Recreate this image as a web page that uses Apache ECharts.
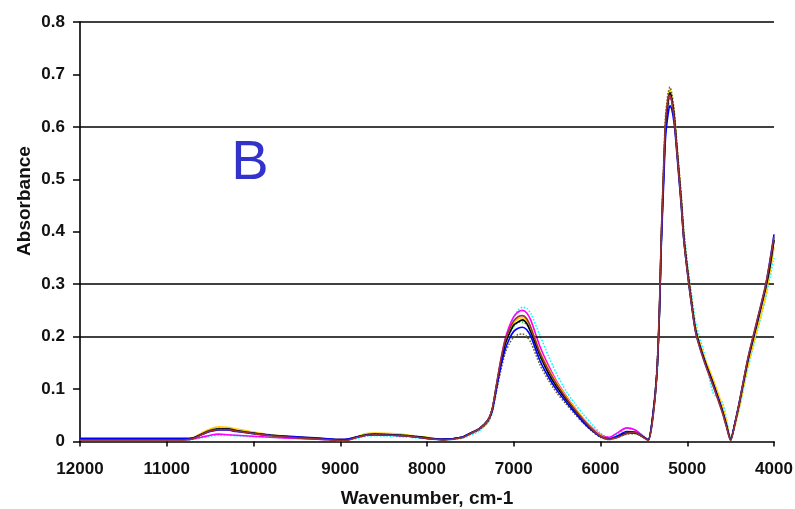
<!DOCTYPE html>
<html>
<head>
<meta charset="utf-8">
<script src="https://cdn.jsdelivr.net/npm/echarts@6/dist/echarts.min.js"></script>
<style>
html,body{margin:0;padding:0;background:#fff;}
#chart{width:795px;height:509px;}
</style>
</head>
<body>
<div id="chart"></div>
<script>
// Wavenumber grid (cm-1), shared by all spectra
var wavenumbers = [
  12000,11500,11000,10800,10700,10600,10500,10400,10300,10200,
  10000,9800,9500,9200,9000,8900,8800,8700,8600,8400,
  8200,8000,7800,7600,7500,7400,7300,7250,7200,7150,
  7100,7050,7000,6950,6900,6850,6800,6700,6600,6500,
  6400,6300,6200,6100,6000,5900,5800,5700,5600,5500,
  5450,5400,5350,5320,5300,5270,5250,5220,5200,5180,
  5150,5120,5100,5070,5040,5000,4950,4900,4800,4700,
  4600,4550,4500,4450,4400,4300,4200,4100,4050,4000
];

var specCyan = [
  0.003,0.003,0.003,0.003,0.004,0.007,0.010,0.012,0.012,0.011,
  0.009,0.008,0.006,0.004,0.002,0.003,0.006,0.010,0.011,0.010,
  0.008,0.005,0.003,0.006,0.012,0.020,0.036,0.055,0.100,0.148,
  0.190,0.216,0.236,0.250,0.256,0.254,0.243,0.203,0.163,0.127,
  0.097,0.073,0.052,0.033,0.016,0.007,0.014,0.025,0.022,0.010,
  0.004,0.040,0.120,0.240,0.370,0.510,0.590,0.635,0.645,0.640,
  0.610,0.560,0.525,0.470,0.405,0.345,0.280,0.225,0.165,0.092,
  0.076,0.045,0.008,0.030,0.062,0.140,0.205,0.270,0.310,0.350
];
var specMagenta = [
  0.004,0.004,0.004,0.004,0.005,0.008,0.012,0.014,0.013,0.012,
  0.010,0.008,0.006,0.004,0.003,0.004,0.008,0.012,0.013,0.012,
  0.010,0.006,0.004,0.008,0.015,0.024,0.040,0.060,0.106,0.154,
  0.195,0.220,0.238,0.247,0.250,0.245,0.230,0.182,0.145,0.113,
  0.088,0.065,0.044,0.027,0.013,0.008,0.017,0.026,0.022,0.009,
  0.003,0.042,0.130,0.250,0.380,0.520,0.600,0.645,0.655,0.650,
  0.615,0.560,0.520,0.460,0.390,0.330,0.265,0.210,0.155,0.110,
  0.062,0.033,0.004,0.034,0.072,0.155,0.222,0.290,0.332,0.383
];
var specYellow = [
  0.004,0.004,0.004,0.004,0.007,0.016,0.024,0.028,0.027,0.024,
  0.018,0.013,0.009,0.005,0.004,0.005,0.010,0.015,0.016,0.015,
  0.012,0.008,0.004,0.008,0.016,0.024,0.040,0.060,0.104,0.150,
  0.188,0.210,0.226,0.234,0.236,0.231,0.217,0.172,0.140,0.111,
  0.087,0.065,0.044,0.026,0.012,0.005,0.009,0.017,0.017,0.008,
  0.004,0.042,0.130,0.250,0.380,0.520,0.610,0.660,0.670,0.660,
  0.625,0.565,0.525,0.465,0.395,0.335,0.270,0.215,0.160,0.118,
  0.070,0.040,0.006,0.030,0.065,0.145,0.210,0.275,0.320,0.370
];
var specGreen = [
  0.005,0.005,0.005,0.005,0.006,0.014,0.021,0.025,0.024,0.021,
  0.016,0.012,0.008,0.005,0.003,0.004,0.009,0.013,0.014,0.013,
  0.011,0.007,0.004,0.008,0.016,0.024,0.040,0.060,0.104,0.148,
  0.184,0.205,0.220,0.227,0.228,0.223,0.209,0.163,0.130,0.102,
  0.080,0.059,0.039,0.022,0.010,0.005,0.009,0.016,0.016,0.008,
  0.003,0.045,0.130,0.250,0.380,0.520,0.600,0.650,0.662,0.652,
  0.618,0.558,0.518,0.458,0.388,0.328,0.263,0.208,0.153,0.108,
  0.060,0.032,0.004,0.035,0.072,0.155,0.222,0.290,0.330,0.385
];
var specOlive = [
  0.005,0.005,0.005,0.005,0.006,0.013,0.020,0.023,0.022,0.020,
  0.015,0.011,0.007,0.005,0.003,0.004,0.009,0.012,0.013,0.012,
  0.010,0.006,0.004,0.007,0.014,0.022,0.036,0.054,0.095,0.135,
  0.168,0.187,0.199,0.204,0.205,0.200,0.188,0.147,0.117,0.092,
  0.072,0.053,0.035,0.020,0.008,0.004,0.008,0.014,0.015,0.007,
  0.003,0.045,0.140,0.260,0.390,0.540,0.620,0.665,0.676,0.665,
  0.630,0.570,0.530,0.470,0.400,0.335,0.270,0.212,0.155,0.110,
  0.060,0.031,0.003,0.035,0.073,0.156,0.224,0.292,0.335,0.385
];
var specBlack = [
  0.004,0.004,0.004,0.004,0.006,0.014,0.021,0.024,0.024,0.021,
  0.016,0.012,0.008,0.005,0.003,0.004,0.009,0.013,0.014,0.013,
  0.011,0.007,0.004,0.008,0.016,0.024,0.040,0.060,0.105,0.150,
  0.185,0.206,0.222,0.228,0.232,0.225,0.207,0.165,0.130,0.103,
  0.081,0.060,0.040,0.023,0.010,0.005,0.009,0.016,0.016,0.008,
  0.003,0.045,0.130,0.250,0.380,0.520,0.600,0.650,0.665,0.655,
  0.620,0.560,0.520,0.460,0.390,0.330,0.265,0.210,0.155,0.110,
  0.062,0.033,0.004,0.035,0.072,0.155,0.222,0.290,0.330,0.385
];
var specBlue = [
  0.006,0.006,0.006,0.006,0.007,0.013,0.019,0.022,0.022,0.019,
  0.015,0.012,0.009,0.006,0.004,0.005,0.009,0.012,0.013,0.012,
  0.010,0.006,0.004,0.008,0.016,0.024,0.040,0.058,0.100,0.142,
  0.175,0.196,0.210,0.216,0.218,0.213,0.199,0.155,0.123,0.097,
  0.076,0.056,0.037,0.021,0.009,0.005,0.011,0.019,0.018,0.008,
  0.003,0.045,0.130,0.250,0.370,0.500,0.580,0.625,0.640,0.635,
  0.605,0.550,0.510,0.450,0.385,0.325,0.260,0.207,0.152,0.108,
  0.060,0.031,0.003,0.036,0.075,0.158,0.226,0.295,0.342,0.395
];
var specDarkRed = [
  0.003,0.003,0.003,0.003,0.005,0.013,0.020,0.023,0.023,0.020,
  0.015,0.011,0.007,0.004,0.002,0.003,0.008,0.012,0.013,0.012,
  0.010,0.006,0.003,0.007,0.015,0.024,0.040,0.061,0.108,0.155,
  0.192,0.214,0.230,0.238,0.240,0.234,0.216,0.170,0.136,0.108,
  0.084,0.062,0.042,0.024,0.010,0.004,0.008,0.015,0.017,0.007,
  0.002,0.040,0.130,0.260,0.390,0.530,0.610,0.655,0.660,0.650,
  0.615,0.555,0.515,0.455,0.385,0.325,0.260,0.205,0.150,0.105,
  0.057,0.029,0.002,0.034,0.074,0.160,0.228,0.296,0.340,0.390
];

var gridLevels = [0.2, 0.3, 0.6, 0.8];

var spectra = [
  {name:'s1', data:specCyan, color:'#00FFFF', type:'dotted'},
  {name:'s2', data:specMagenta, color:'#FF00FF', type:'solid'},
  {name:'s3', data:specYellow, color:'#FFCC00', type:'solid'},
  {name:'s4', data:specGreen, color:'#00CC00', type:'dotted'},
  {name:'s5', data:specOlive, color:'#666633', type:'dotted'},
  {name:'s6', data:specBlack, color:'#000000', type:'solid'},
  {name:'s7', data:specBlue, color:'#0000FF', type:'solid'},
  {name:'s8', data:specDarkRed, color:'#993333', type:'solid'}
];

var chart = echarts.init(document.getElementById('chart'), null, {renderer:'canvas'});
var series = spectra.map(function(s, i){
  var o = {
    name: s.name,
    type: 'line',
    showSymbol: false,
    smooth: 0.25,
    data: wavenumbers.map(function(w, k){ return [w, s.data[k]]; }),
    lineStyle: {color: s.color, width: 1.6, type: s.type},
    itemStyle: {color: s.color},
    z: 3 + i
  };
  if (i === 0) {
    o.markLine = {
      silent: true,
      symbol: ['none','none'],
      label: {show:false},
      lineStyle: {color:'#000', width:1.6, type:'solid'},
      data: gridLevels.map(function(v){ return {yAxis: v}; }),
      animation: false
    };
  }
  return o;
});

var labelFont = {fontFamily:'Liberation Sans, Arial, sans-serif', fontWeight:'bold', fontSize:17, color:'#111'};

chart.setOption({
  animation: false,
  backgroundColor: '#fff',
  grid: {left:80, right:21, top:22, bottom:67.5, containLabel:false, outerBoundsMode:'none'},
  xAxis: {
    type: 'value',
    inverse: true,
    min: 4000, max: 12000, interval: 1000,
    name: 'Wavenumber, cm-1',
    nameLocation: 'middle',
    nameGap: 48,
    nameTextStyle: {fontFamily:'Liberation Sans, Arial, sans-serif', fontWeight:'bold', fontSize:19, color:'#111'},
    axisLine: {show:true, onZero:false, lineStyle:{color:'#000', width:1.6}},
    axisTick: {show:true, inside:false, length:5, lineStyle:{color:'#000', width:1.5}},
    axisLabel: Object.assign({margin:19, formatter:function(v){ return String(v); }}, labelFont),
    splitLine: {show:false}
  },
  yAxis: {
    type: 'value',
    min: 0, max: 0.8, interval: 0.1,
    axisLine: {show:true, lineStyle:{color:'#000', width:1.6}},
    axisTick: {show:true, inside:false, length:7, lineStyle:{color:'#000', width:1.5}},
    axisLabel: Object.assign({margin:15, formatter:function(v){ return v === 0 ? '0' : v.toFixed(1); }}, labelFont),
    splitLine: {show:false}
  },
  graphic: [
    {type:'text', x:25, y:201, rotation:Math.PI/2,
     style:{text:'Absorbance', fill:'#111', font:'bold 19px "Liberation Sans", Arial, sans-serif', textAlign:'center', textVerticalAlign:'middle'}},
    {type:'text', x:250, y:164,
     style:{text:'B', fill:'#3333CC', font:'56px "Liberation Sans", Arial, sans-serif', textAlign:'center', textVerticalAlign:'middle'}}
  ],
  series: series
});
</script>
</body>
</html>
